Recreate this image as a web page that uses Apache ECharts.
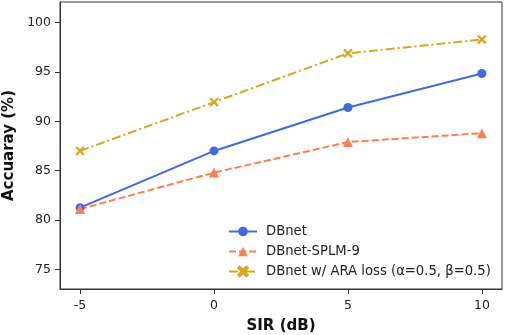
<!DOCTYPE html>
<html><head><meta charset="utf-8">
<script src="https://cdn.jsdelivr.net/npm/echarts@6/dist/echarts.min.js"></script>
<style>html,body{margin:0;padding:0;background:#fff}#c{width:505px;height:335px}</style>
</head><body><div id="c"></div>
<script>
const sirValues = [-5, 0, 5, 10];
const xTicks = [-5, 0, 5, 10];
const yTicks = [75, 80, 85, 90, 95, 100];
const dbnet = [81.25, 87.0, 91.4, 94.85];
const dbnetSplm9 = [81.1, 84.8, 87.9, 88.8];
const dbnetAra = [87.0, 91.95, 96.9, 98.3];
const seriesNames = ['DBnet', 'DBnet-SPLM-9', 'DBnet w/ ARA loss (α=0.5, β=0.5)'];

const xSym = 'path://M1.5,0 L5,3.5 L8.5,0 L10,1.5 L6.5,5 L10,8.5 L8.5,10 L5,6.5 L1.5,10 L0,8.5 L3.5,5 L0,1.5 Z';
const font = 'DejaVu Sans';
function pts(arr){ return sirValues.map((x,i)=>[x, arr[i]]); }

const chart = echarts.init(document.getElementById('c'), null, {renderer:'canvas'});
chart.setOption({
  animation:false,
  backgroundColor:'#fff',
  grid:{left:60, right:3, top:2, bottom:46, show:true, borderColor:'#333', borderWidth:1,
        containLabel:false, outerBoundsMode:'none'},
  legend:{
    orient:'vertical', left:228, top:225, padding:0,
    itemWidth:28, itemHeight:12, itemGap:7,
    textStyle:{fontFamily:font, fontSize:13.2, color:'#222', padding:[0,0,0,4]},
    data:seriesNames
  },
  xAxis:{
    type:'value', min:-5.75, max:10.75,
    name:'SIR (dB)', nameLocation:'middle', nameGap:30,
    nameTextStyle:{fontFamily:font, fontSize:15, fontWeight:'bold', color:'#111'},
    axisLine:{show:true, onZero:false, lineStyle:{color:'#333'}},
    axisTick:{show:true, length:5, customValues:xTicks, lineStyle:{color:'#333'}},
    axisLabel:{customValues:xTicks, fontFamily:font, fontSize:12.5, color:'#222', margin:10},
    splitLine:{show:false}
  },
  yAxis:{
    type:'value', min:73, max:102.1,
    name:'Accuaray (%)', nameLocation:'middle', nameGap:42,
    nameTextStyle:{fontFamily:font, fontSize:15, fontWeight:'bold', color:'#111'},
    axisLine:{show:true, onZero:false, lineStyle:{color:'#333'}},
    axisTick:{show:true, length:5, customValues:yTicks, lineStyle:{color:'#333'}},
    axisLabel:{customValues:yTicks, fontFamily:font, fontSize:12.5, color:'#222', margin:9},
    splitLine:{show:false}
  },
  series:[
    {name:seriesNames[0], type:'line', data:pts(dbnet), symbol:'circle', symbolSize:9,
     color:'#4169E1', lineStyle:{width:2, color:'#4169E1'}, itemStyle:{color:'#4169E1'}},
    {name:seriesNames[1], type:'line', data:pts(dbnetSplm9), symbol:'triangle', symbolSize:10,
     color:'#FF7F50', lineStyle:{width:2, color:'#FF7F50', type:[7,3]}, itemStyle:{color:'#FF7F50'}},
    {name:seriesNames[2], type:'line', data:pts(dbnetAra), symbol:xSym, symbolSize:9,
     color:'#DAA520', lineStyle:{width:2, color:'#DAA520', type:[9,3,2,3]}, itemStyle:{color:'#DAA520', borderColor:'#DAA520', borderWidth:0.5}}
  ]
});
</script></body></html>
